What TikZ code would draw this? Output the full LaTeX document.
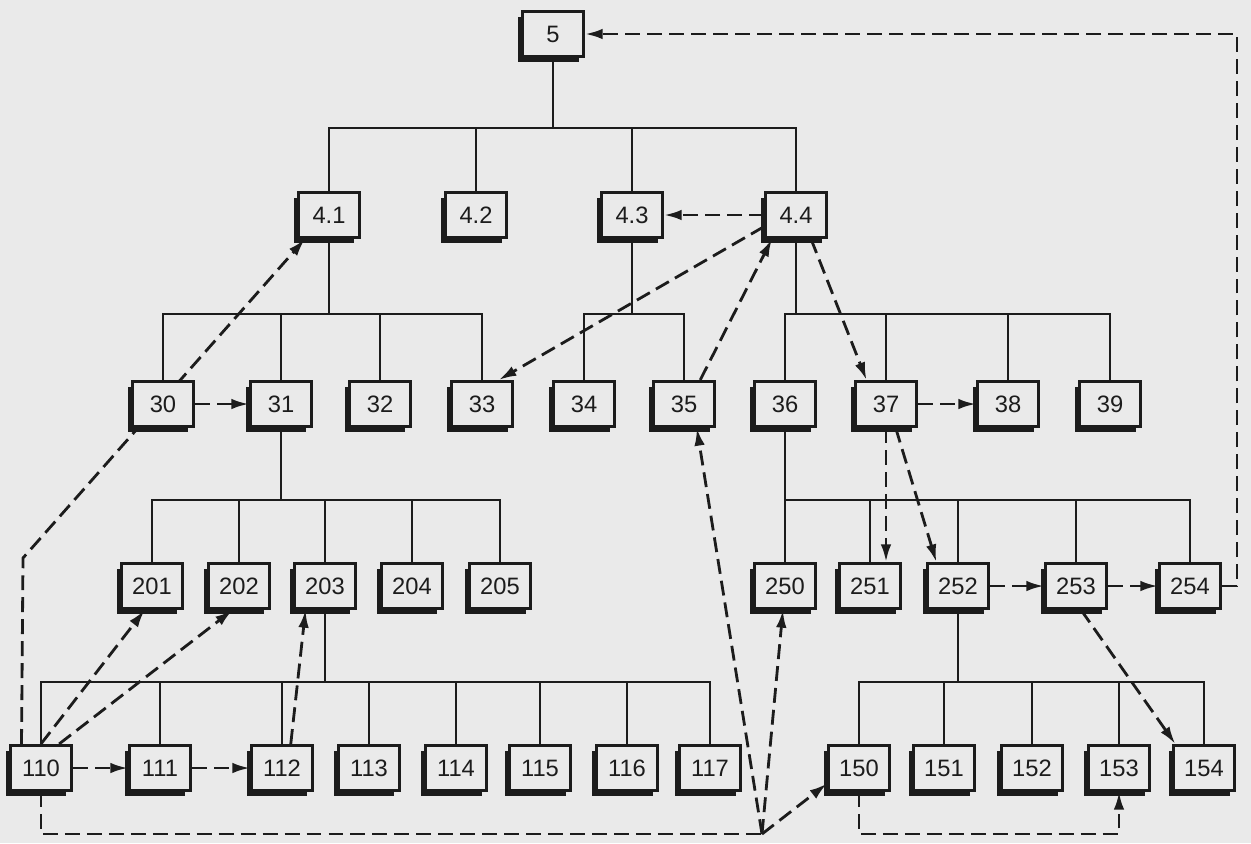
\documentclass[tikz,border=0pt]{standalone}
\usepackage{fontspec}
\setmainfont{Liberation Sans}
\usetikzlibrary{arrows.meta, positioning, calc, shadows, backgrounds}
\usepackage{xcolor}
\definecolor{Paper}{HTML}{EAEAEA}
\definecolor{Ink}{HTML}{1C1C1C}

\begin{document}
\begin{tikzpicture}[
            x=0.02cm, y=-0.02cm,
            unit/.style={
                rectangle,
                draw=Ink,
                fill=Paper,
                line width=1.8pt,
                minimum width=1.22cm,
                minimum height=0.9cm,
                inner sep=0pt,
                font=\fontsize{13.5}{15}\selectfont,
                text=Ink,
                drop shadow={shadow xshift=-0.1cm, shadow yshift=-0.1cm, fill=Ink, opacity=1}
            },
            tree/.style={line width=1.5pt, color=Ink},
            link/.style={-{Latex[length=10pt,width=6pt]}, dash pattern=on 8.5pt off 4pt, line width=1.6pt, color=Ink},
            linkline/.style={link, -}
        ]
            \useasboundingbox (0,0) rectangle (1251,843);
            \begin{scope}[on background layer]
                \fill[Paper] (0,0) rectangle (1251,843);
            \end{scope}

            \node[unit] (n5) at (553,34) {5};

            \node[unit] (n41) at (329,215) {4.1};
            \node[unit] (n42) at (476,215) {4.2};
            \node[unit] (n43) at (632,215) {4.3};
            \node[unit] (n44) at (796,215) {4.4};

            \node[unit] (n30) at (163,404) {30};
            \node[unit] (n31) at (281,404) {31};
            \node[unit] (n32) at (380,404) {32};
            \node[unit] (n33) at (482,404) {33};
            \node[unit] (n34) at (584,404) {34};
            \node[unit] (n35) at (684,404) {35};
            \node[unit] (n36) at (785,404) {36};
            \node[unit] (n37) at (886,404) {37};
            \node[unit] (n38) at (1008,404) {38};
            \node[unit] (n39) at (1110,404) {39};

            \node[unit] (n201) at (152,586) {201};
            \node[unit] (n202) at (239,586) {202};
            \node[unit] (n203) at (325,586) {203};
            \node[unit] (n204) at (412,586) {204};
            \node[unit] (n205) at (500,586) {205};
            \node[unit] (n250) at (785,586) {250};
            \node[unit] (n251) at (870,586) {251};
            \node[unit] (n252) at (958,586) {252};
            \node[unit] (n253) at (1076,586) {253};
            \node[unit] (n254) at (1190,586) {254};

            \node[unit] (n110) at (41,768) {110};
            \node[unit] (n111) at (160,768) {111};
            \node[unit] (n112) at (282,768) {112};
            \node[unit] (n113) at (369,768) {113};
            \node[unit] (n114) at (456,768) {114};
            \node[unit] (n115) at (540,768) {115};
            \node[unit] (n116) at (627,768) {116};
            \node[unit] (n117) at (710,768) {117};
            \node[unit] (n150) at (859,768) {150};
            \node[unit] (n151) at (944,768) {151};
            \node[unit] (n152) at (1032,768) {152};
            \node[unit] (n153) at (1119,768) {153};
            \node[unit] (n154) at (1204,768) {154};

            \coordinate (b5) at (553,128);
            \coordinate (b41) at (329,314);
            \coordinate (b43) at (632,314);
            \coordinate (b44) at (796,314);
            \coordinate (b31) at (281,500);
            \coordinate (b36) at (785,500);
            \coordinate (b203) at (325,682);
            \coordinate (b252) at (958,682);
            \coordinate (jn) at (762,834);
            \coordinate (k1) at (23,558);
            \coordinate (rt) at (1237,34);

            % Tree
            \draw[tree] (n5) -- (b5);
            \draw[tree] (n41.north) |- (b5) -| (n44.north);
            \draw[tree] (n42.north) -- (n42.north |- b5);
            \draw[tree] (n43.north) -- (n43.north |- b5);

            \draw[tree] (n41) -- (b41);
            \draw[tree] (n30.north) |- (b41) -| (n33.north);
            \draw[tree] (n31.north) -- (n31.north |- b41);
            \draw[tree] (n32.north) -- (n32.north |- b41);

            \draw[tree] (n43) -- (b43);
            \draw[tree] (n34.north) |- (b43) -| (n35.north);

            \draw[tree] (n44) -- (b44);
            \draw[tree] (n36.north) |- (b44) -| (n39.north);
            \draw[tree] (n37.north) -- (n37.north |- b44);
            \draw[tree] (n38.north) -- (n38.north |- b44);

            \draw[tree] (n31) -- (b31);
            \draw[tree] (n201.north) |- (b31) -| (n205.north);
            \draw[tree] (n202.north) -- (n202.north |- b31);
            \draw[tree] (n203.north) -- (n203.north |- b31);
            \draw[tree] (n204.north) -- (n204.north |- b31);

            \draw[tree] (n36) -- (b36);
            \draw[tree] (n250.north) |- (b36) -| (n254.north);
            \draw[tree] (n251.north) -- (n251.north |- b36);
            \draw[tree] (n252.north) -- (n252.north |- b36);
            \draw[tree] (n253.north) -- (n253.north |- b36);

            \draw[tree] (n203) -- (b203);
            \draw[tree] (n110.north) |- (b203) -| (n117.north);
            \draw[tree] (n111.north) -- (n111.north |- b203);
            \draw[tree] (n112.north) -- (n112.north |- b203);
            \draw[tree] (n113.north) -- (n113.north |- b203);
            \draw[tree] (n114.north) -- (n114.north |- b203);
            \draw[tree] (n115.north) -- (n115.north |- b203);
            \draw[tree] (n116.north) -- (n116.north |- b203);

            \draw[tree] (n252) -- (b252);
            \draw[tree] (n150.north) |- (b252) -| (n154.north);
            \draw[tree] (n151.north) -- (n151.north |- b252);
            \draw[tree] (n152.north) -- (n152.north |- b252);
            \draw[tree] (n153.north) -- (n153.north |- b252);

            % Dashed links
            \draw[link] (n254.east) -| (rt) -- (n5.east);
            \draw[link] (n44.west) -- (n43.east);
            \draw[link] (n44.200) -- (n33.55);
            \draw[link] (n35.56) -- (n44.225);
            \draw[link] (n44.302) -- (n37.129);
            \draw[link] (n37.east) -- (n38.west);
            \draw[link] (n30.east) -- (n31.west);
            \draw[link] (n37.south) -- (n37.south |- n251.north);
            \draw[link] (n37.292) -- (n252.132);
            \draw[link] (n252.east) -- (n253.west);
            \draw[link] (n253.east) -- (n254.west);
            \draw[link] (n253.282) -- (n154.140);
            \begin{scope}[on background layer]
                \draw[link] (n110.129) -- (k1) -- (n41.225);
            \end{scope}
            \draw[link] (n110.north) -- (n201.253);
            \draw[link] (n110.53) -- (n202.255);
            \draw[link] (n112.70) -- (n203.231);
            \draw[link] (n110.east) -- (n111.west);
            \draw[link] (n111.east) -- (n112.west);

            % Bottom return lines
            \draw[linkline] (n110.south) |- (jn);
            \draw[link] (jn) -- (n35.298);
            \draw[link] (jn) -- (n250.265);
            \draw[link] (jn) -- (n150.206);
            \draw[link] (n150.south) -- (n150.south |- jn) -| (n153.south);
        \end{tikzpicture}
\end{document}
